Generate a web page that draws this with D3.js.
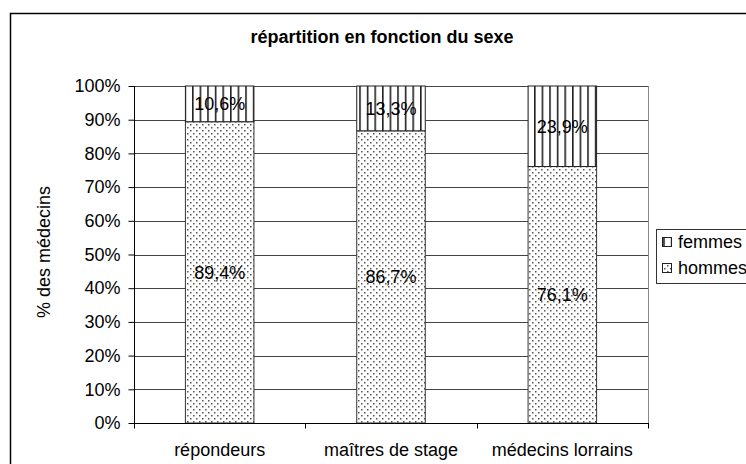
<!DOCTYPE html>
<html><head><meta charset="utf-8">
<script src="https://cdn.jsdelivr.net/npm/d3@7"></script>
<style>body{margin:0;background:#fff}svg{display:block}text{font-family:"Liberation Sans",Arial,sans-serif}</style>
</head><body>
<div id="chart"></div>
<script>
const categories = ["répondeurs", "maîtres de stage", "médecins lorrains"];
const hommes = [89.4, 86.7, 76.1];
const femmes = [10.6, 13.3, 23.9];
const hommesLabels = ["89,4%", "86,7%", "76,1%"];
const femmesLabels = ["10,6%", "13,3%", "23,9%"];
const yTicks = [0, 10, 20, 30, 40, 50, 60, 70, 80, 90, 100];
const seriesNames = ["femmes", "hommes"];
const title = "répartition en fonction du sexe";
const yTitle = "% des médecins";

const W = 746, H = 464;
const m = {left: 134, right: 648, top: 86, bottom: 423};
const svg = d3.select("#chart").append("svg").attr("width", W).attr("height", H);
const defs = svg.append("defs");

// patterns
const pv = defs.append("pattern").attr("id", "vlines").attr("patternUnits", "userSpaceOnUse")
  .attr("width", 7.6).attr("height", 10).attr("x", 2);
pv.append("rect").attr("width", 7.6).attr("height", 10).attr("fill", "#fff");
pv.append("rect").attr("x", 0).attr("width", 1.6).attr("height", 10).attr("fill", "#222");

const pd = defs.append("pattern").attr("id", "dots").attr("patternUnits", "userSpaceOnUse")
  .attr("width", 6).attr("height", 6);
pd.append("rect").attr("width", 6).attr("height", 6).attr("fill", "#fff");
pd.append("rect").attr("x", 1).attr("y", 1).attr("width", 1.5).attr("height", 1.5).attr("fill", "#555");
pd.append("rect").attr("x", 4).attr("y", 4).attr("width", 1.5).attr("height", 1.5).attr("fill", "#555");

// outer frame
svg.append("rect").attr("x", 10.5).attr("y", 13.5).attr("width", 760).attr("height", 470)
  .attr("fill", "none").attr("stroke", "#000").attr("stroke-width", 1.5);

const x = d3.scaleBand().domain(categories).range([m.left, m.right]).paddingInner(0.6).paddingOuter(0.3);
const xOuter = d3.scaleBand().domain(categories).range([m.left, m.right]).padding(0);
const y = d3.scaleLinear().domain([0, 100]).range([m.bottom, m.top]);

// gridlines
svg.append("g").selectAll("line").data(yTicks.filter(t => t > 0)).join("line")
  .attr("x1", m.left).attr("x2", m.right)
  .attr("y1", d => Math.round(y(d)) + 0.5).attr("y2", d => Math.round(y(d)) + 0.5)
  .attr("stroke", "#444").attr("stroke-width", 1);
// right border
svg.append("line").attr("x1", m.right + 0.5).attr("x2", m.right + 0.5).attr("y1", m.top).attr("y2", m.bottom)
  .attr("stroke", "#888");

// bars
const g = svg.append("g");
categories.forEach((c, i) => {
  const x0 = x(c), bw = x.bandwidth();
  g.append("rect").attr("x", x0).attr("y", y(hommes[i])).attr("width", bw)
    .attr("height", y(0) - y(hommes[i])).attr("fill", "url(#dots)").attr("stroke", "#333").attr("stroke-width", 1);
  g.append("rect").attr("x", x0).attr("y", y(hommes[i] + femmes[i])).attr("width", bw)
    .attr("height", y(hommes[i]) - y(hommes[i] + femmes[i])).attr("fill", "url(#vlines)").attr("stroke", "#222").attr("stroke-width", 1);
  g.append("text").attr("x", x0 + bw / 2).attr("y", y(hommes[i] / 2)).attr("dy", "0.35em")
    .attr("text-anchor", "middle").attr("font-size", 18).text(hommesLabels[i]);
  g.append("text").attr("x", x0 + bw / 2).attr("y", y(hommes[i] + femmes[i] / 2)).attr("dy", "0.35em")
    .attr("text-anchor", "middle").attr("font-size", 18).text(femmesLabels[i]);
});

// y axis
const ya = svg.append("g").attr("transform", `translate(${m.left + 0.5},0)`)
  .call(d3.axisLeft(y).tickValues(yTicks).tickFormat(d => d + "%").tickSize(6).tickPadding(8));
ya.selectAll("text").attr("font-size", 18).attr("fill", "#000").attr("font-family", '"Liberation Sans",Arial,sans-serif');
ya.selectAll("line").attr("stroke", "#000");
ya.select(".domain").attr("stroke", "#000").attr("d", `M0,${m.top}V${m.bottom}`);

// x axis
const xa = svg.append("g").attr("transform", `translate(0,${m.bottom + 0.5})`);
xa.append("line").attr("x1", m.left).attr("x2", m.right + 1).attr("stroke", "#000");
const bounds = categories.map(c => xOuter(c)).concat([m.right]);
xa.selectAll(".tk").data(bounds).join("line").attr("class", "tk")
  .attr("x1", d => Math.round(d) + 0.5).attr("x2", d => Math.round(d) + 0.5).attr("y1", 0).attr("y2", 5).attr("stroke", "#000");
xa.selectAll(".lbl").data(categories).join("text").attr("class", "lbl")
  .attr("x", d => xOuter(d) + xOuter.bandwidth() / 2).attr("y", 32.5)
  .attr("text-anchor", "middle").attr("font-size", 18).text(d => d);

// title
svg.append("text").attr("x", 382).attr("y", 43).attr("text-anchor", "middle")
  .attr("font-size", 18).attr("font-weight", "bold").text(title);
// y title
svg.append("text").attr("transform", "translate(50,252) rotate(-90)").attr("text-anchor", "middle")
  .attr("font-size", 18).text(yTitle);

// legend
const lg = svg.append("g");
lg.append("rect").attr("x", 656.5).attr("y", 229.5).attr("width", 120).attr("height", 54)
  .attr("fill", "#fff").attr("stroke", "#333");
const fills = ["url(#vlines)", "url(#dots)"];
seriesNames.forEach((s, i) => {
  const cy = 242 + i * 26;
  lg.append("rect").attr("x", 662.5).attr("y", cy - 4.5).attr("width", 9).attr("height", 9)
    .attr("fill", fills[i]).attr("stroke", "#222");
  lg.append("text").attr("x", 678).attr("y", cy).attr("dy", "0.35em").attr("font-size", 18).text(s);
});
</script>
</body></html>
